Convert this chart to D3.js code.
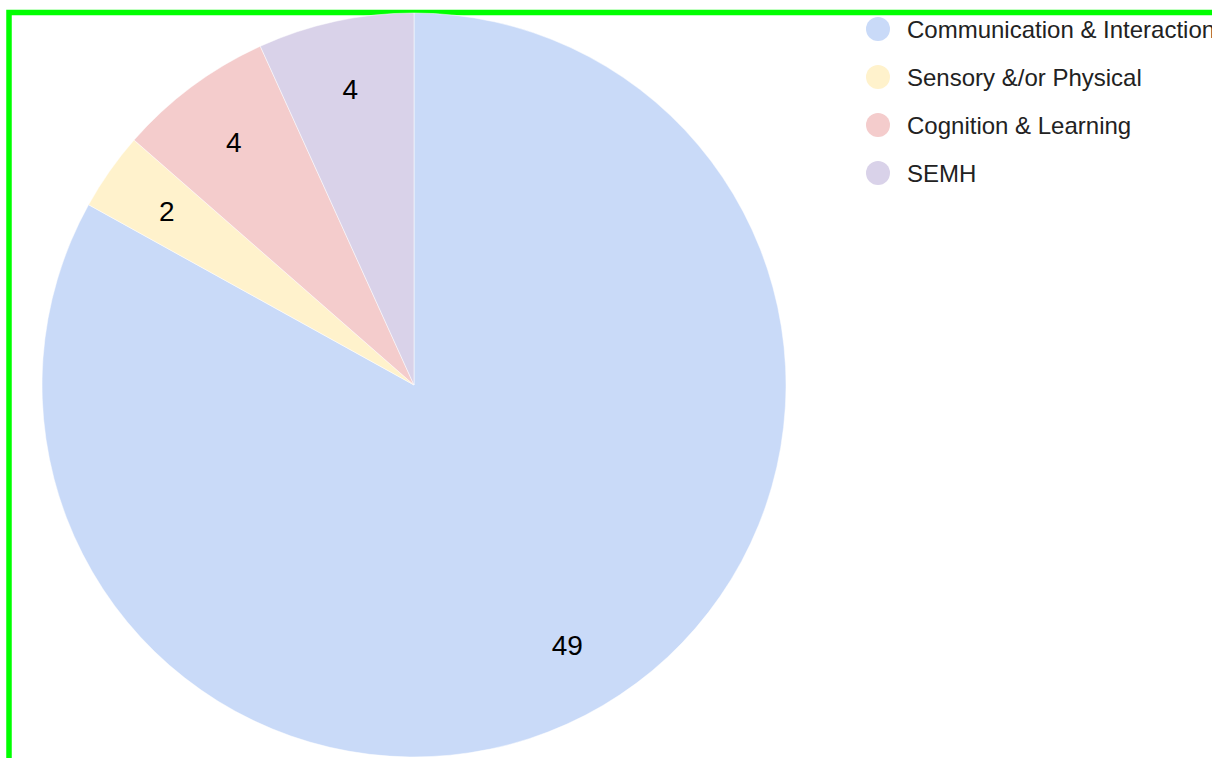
<!DOCTYPE html>
<html><head><meta charset="utf-8">
<script src="https://cdn.jsdelivr.net/npm/d3@7"></script>
<style>
html,body{margin:0;padding:0;background:#fff;overflow:hidden}
svg{display:block}
</style></head>
<body><svg id="c" width="1212" height="758"></svg>
<script>
const categories = ["Communication & Interaction", "Sensory &/or Physical", "Cognition & Learning", "SEMH"];
const values = [49, 2, 4, 4];
const colors = ["#c9daf8", "#fff2cc", "#f4cccc", "#d9d2e9"];

const svg = d3.select("#c");
// green frame
svg.append("path").attr("d", "M9,770 V12.5 H1230").attr("fill", "none").attr("stroke", "#00ff00").attr("stroke-width", 5.5);

const cx = 414, cy = 385, R = 372;
const pie = d3.pie().sort(null).value(d => d.v);
const data = pie(categories.map((c, i) => ({c, v: values[i], col: colors[i]})));
const arc = d3.arc().innerRadius(0).outerRadius(R);
const labelArc = d3.arc().innerRadius(302).outerRadius(302);
const g = svg.append("g").attr("transform", `translate(${cx},${cy})`);
g.selectAll("path.s").data(data).join("path").attr("class", "s")
  .attr("d", arc).attr("fill", d => d.data.col).attr("stroke", "#fff").attr("stroke-width", 0.5);
g.selectAll("text").data(data).join("text")
  .attr("transform", d => `translate(${labelArc.centroid(d)})`)
  .attr("text-anchor", "middle").attr("dominant-baseline", "central")
  .attr("font-family", "Liberation Sans, Arial, sans-serif").attr("font-size", 28)
  .attr("fill", "#000").text(d => d.data.v);

const y = d3.scalePoint().domain(categories).range([29, 173]);
const lg = svg.append("g");
lg.selectAll("circle").data(categories).join("circle")
  .attr("cx", 878).attr("cy", d => y(d)).attr("r", 12).attr("fill", (d, i) => colors[i]);
lg.selectAll("text").data(categories).join("text")
  .attr("x", 907).attr("y", d => y(d)).attr("dominant-baseline", "central")
  .attr("font-family", "Liberation Sans, Arial, sans-serif").attr("font-size", 24)
  .attr("fill", "#222").text(d => d);
</script></body></html>
